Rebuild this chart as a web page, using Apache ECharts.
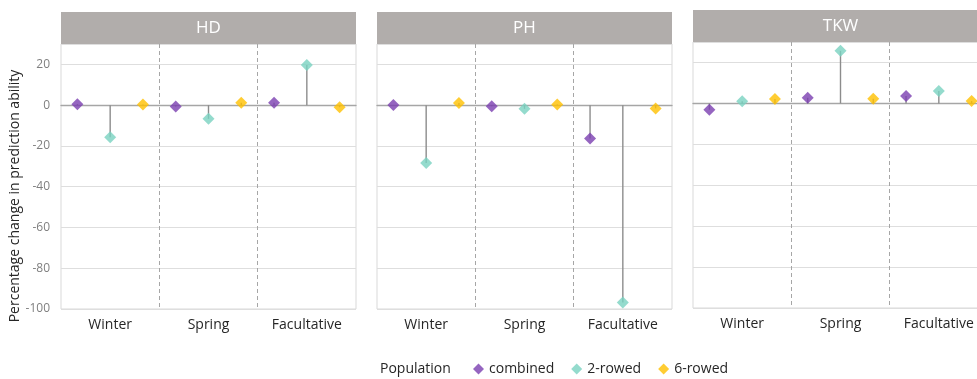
<!DOCTYPE html>
<html>
<head>
<meta charset="utf-8">
<title>Percentage change in prediction ability</title>
<script src="https://cdn.jsdelivr.net/npm/echarts@6/dist/echarts.min.js"></script>
<style>
  html, body { margin: 0; padding: 0; background: #ffffff; }
  #chart { width: 977px; height: 379px; }
</style>
</head>
<body>
<div id="chart"></div>
<script>
// Growth-habit groups on the x axis and the three traits (one panel each)
const categories = ['Winter', 'Spring', 'Facultative'];
const traits = ['HD', 'PH', 'TKW'];
const populations = ['combined', '2-rowed', '6-rowed'];
const popColors = ['#7b3fb0', '#79d2c0', '#ffc000'];
const yTicks = [-100, -80, -60, -40, -20, 0, 20];

// Percentage change per trait, population, growth habit (Winter, Spring, Facultative)
const HD_combined = [0.5, -0.6, 1.2];
const HD_2rowed   = [-15.8, -6.7, 19.7];
const HD_6rowed   = [0.3, 1.2, -1.0];

const PH_combined = [0.1, -0.5, -16.3];
const PH_2rowed   = [-28.4, -1.8, -96.8];
const PH_6rowed   = [1.1, 0.3, -1.6];

const TKW_combined = [-3.1, 2.8, 3.6];
const TKW_2rowed   = [1.0, 25.7, 6.0];
const TKW_6rowed   = [2.1, 2.3, 1.2];

const traitData = {
  HD:  [HD_combined, HD_2rowed, HD_6rowed],
  PH:  [PH_combined, PH_2rowed, PH_6rowed],
  TKW: [TKW_combined, TKW_2rowed, TKW_6rowed]
};

// Panel layout (the last panel runs past the right edge of the canvas)
const panels = [
  { left: 61,  top: 44, width: 295, height: 265, headerTop: 12 },
  { left: 377, top: 44, width: 295, height: 265, headerTop: 12 },
  { left: 693, top: 42, width: 295, height: 266, headerTop: 10 }
];

const FONT = '"Open Sans", "Noto Sans", sans-serif';
const nSlots = categories.length * populations.length;
const slotNames = Array.from({ length: nSlots }, (_, i) => 's' + i);

const grid = [], xAxis = [], yAxis = [], series = [], graphic = [];

traits.forEach((trait, p) => {
  const pl = panels[p];
  grid.push({
    left: pl.left, top: pl.top, width: pl.width, height: pl.height,
    outerBoundsMode: 'none', containLabel: false,
    show: true, borderColor: '#d9d9d9', borderWidth: 1, backgroundColor: '#fff'
  });

  // slot axis: one band per (growth habit, population); its axis line is the zero line
  xAxis.push({
    type: 'category', gridIndex: p, data: slotNames, position: 'bottom',
    axisLine: { show: true, onZero: true, lineStyle: { color: '#a6a6a6', width: 1.3 } },
    axisTick: { show: false }, axisLabel: { show: false }, splitLine: { show: false }
  });
  // label axis: growth-habit names and dashed separators
  xAxis.push({
    type: 'category', gridIndex: p, data: categories, position: 'bottom',
    axisLine: { show: false }, axisTick: { show: false },
    axisLabel: { color: '#262626', fontSize: 14, fontFamily: FONT, margin: 9 },
    splitLine: {
      show: true, showMinLine: false, showMaxLine: false,
      lineStyle: { color: '#a6a6a6', type: [4, 3], width: 1 }
    }
  });

  yAxis.push({
    type: 'value', gridIndex: p, min: -100, max: 30, interval: 20,
    axisLine: { show: false }, axisTick: { show: false },
    axisLabel: {
      show: p === 0, color: '#7f7f7f', fontSize: 12, fontFamily: FONT, margin: 11,
      formatter: v => (yTicks.indexOf(v) >= 0 ? String(v) : '')
    },
    splitLine: { show: true, lineStyle: { color: '#dedede', width: 1 } }
  });

  const vals = traitData[trait];
  // stems from zero to each value
  const stems = [];
  categories.forEach((c, ci) => populations.forEach((pop, si) => { stems[ci * 3 + si] = vals[si][ci]; }));
  series.push({
    type: 'bar', xAxisIndex: p * 2, yAxisIndex: p, data: stems,
    barWidth: 1.4, itemStyle: { color: '#8c8c8c' }, silent: true, z: 3
  });

  populations.forEach((pop, si) => {
    const data = slotNames.map(() => '-');
    categories.forEach((c, ci) => { data[ci * 3 + si] = vals[si][ci]; });
    series.push({
      type: 'scatter', name: pop, xAxisIndex: p * 2, yAxisIndex: p, data,
      symbol: 'diamond', symbolSize: 12,
      itemStyle: { color: popColors[si] }, z: 5
    });
  });

  // panel header strip
  graphic.push({
    type: 'group', left: pl.left, top: pl.headerTop,
    children: [
      { type: 'rect', shape: { x: 0, y: 0, width: pl.width, height: pl.top - pl.headerTop },
        style: { fill: '#b1adab' } },
      { type: 'text', x: pl.width / 2, y: (pl.top - pl.headerTop) / 2,
        style: { text: trait, fill: '#ffffff', font: '17px ' + FONT, align: 'center', verticalAlign: 'middle' } }
    ]
  });
});

// y axis title
graphic.push({
  type: 'text', x: 15, y: 196, rotation: Math.PI / 2,
  style: {
    text: 'Percentage change in prediction ability', fill: '#262626',
    font: '14px ' + FONT, align: 'center', verticalAlign: 'middle'
  }
});
// legend caption
graphic.push({
  type: 'text', x: 380, y: 369,
  style: { text: 'Population', fill: '#262626', font: '14px ' + FONT, verticalAlign: 'middle' }
});

const chart = echarts.init(document.getElementById('chart'), null, { renderer: 'canvas' });
chart.setOption({
  animation: false,
  backgroundColor: '#ffffff',
  grid, xAxis, yAxis, series, graphic,
  legend: {
    data: populations.map(n => ({ name: n, icon: 'diamond' })),
    left: 473, top: 362, padding: 0, itemWidth: 11, itemHeight: 11, itemGap: 17,
    textStyle: { color: '#262626', fontSize: 14, fontFamily: FONT }
  }
});
</script>
</body>
</html>
